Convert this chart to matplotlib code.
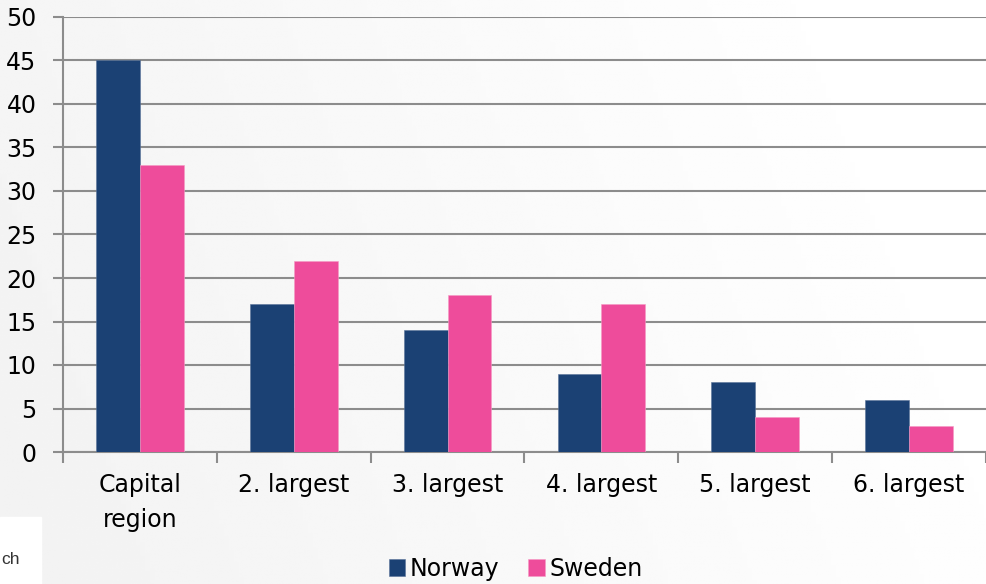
import matplotlib
matplotlib.use("Agg")
import matplotlib.pyplot as plt
import numpy as np

categories = ["Capital\nregion", "2. largest", "3. largest", "4. largest", "5. largest", "6. largest"]
norway = [45, 17, 14, 9, 8, 6]
sweden = [33, 22, 18, 17, 4, 3]
yticks = [0, 5, 10, 15, 20, 25, 30, 35, 40, 45, 50]

c_nor = "#1B4174"
c_swe = "#EE4C9B"
grid_c = "#8C8C8C"

plt.rcParams['font.family'] = ['DejaVu Sans']
fig = plt.figure(figsize=(9.86, 5.84), dpi=100)

# background gradient
bg = fig.add_axes([0, 0, 1, 1], zorder=-10)
gx = np.linspace(0, 1, 200)
gy = np.linspace(0, 1, 200)
X, Y = np.meshgrid(gx, gy)
val = 0.95 + 0.05 * np.clip(X * 0.9 + (1 - Y) * 0.2, 0, 1)
bg.imshow(val, cmap="gray", vmin=0, vmax=1, extent=[0, 1, 0, 1], aspect="auto", origin="upper")
bg.axis("off")
# white box with text bottom-left
bg.add_patch(plt.Rectangle((0, 0), 41 / 986, 67 / 584, color="white", transform=bg.transAxes, zorder=2))
bg.text(1 / 986, 1 - 560 / 584, "ch", transform=bg.transAxes, fontsize=12.5, color="#333333",
        family="Liberation Sans", va="center", ha="left", zorder=3)

ax = fig.add_axes([63 / 986, 1 - 452 / 584, 1 - 63 / 986, (452 - 17) / 584])
ax.patch.set_alpha(0)

x = np.arange(len(categories))
w = 0.285
ax.bar(x - w / 2, norway, w, color=c_nor, label="Norway", zorder=3, edgecolor="#5a7399", linewidth=0.4)
ax.bar(x + w / 2, sweden, w, color=c_swe, label="Sweden", zorder=3, edgecolor="#f59ac4", linewidth=0.4)

ax.set_xlim(-0.5, len(categories) - 0.5)
ax.set_ylim(0, 50)
ax.set_yticks(yticks)
ax.set_yticklabels([str(t) for t in yticks], fontsize=17)
ax.yaxis.grid(True, color=grid_c, linewidth=1.5, zorder=0)
ax.set_axisbelow(True)

ax.set_xticks(x)
ax.set_xticklabels(categories, fontsize=17, linespacing=1.6)
ax.tick_params(axis="x", length=0, pad=15)
ax.set_xticks(np.arange(-0.5, len(categories), 1), minor=True)
ax.tick_params(axis="x", which="minor", length=8, width=1.5, color=grid_c, direction="out")
ax.tick_params(axis="y", length=7, width=1.5, color=grid_c, pad=12)

for s in ["top", "right"]:
    ax.spines[s].set_visible(False)
for s in ["left", "bottom"]:
    ax.spines[s].set_color(grid_c)
    ax.spines[s].set_linewidth(1.5)

leg = fig.legend(loc="center", bbox_to_anchor=(0.523, 1 - 569 / 584), ncol=2, frameon=False,
                 fontsize=17, handlelength=0.7, handleheight=0.7, handletextpad=0.2,
                 columnspacing=1.2)

fig.savefig("out.png", dpi=100)
